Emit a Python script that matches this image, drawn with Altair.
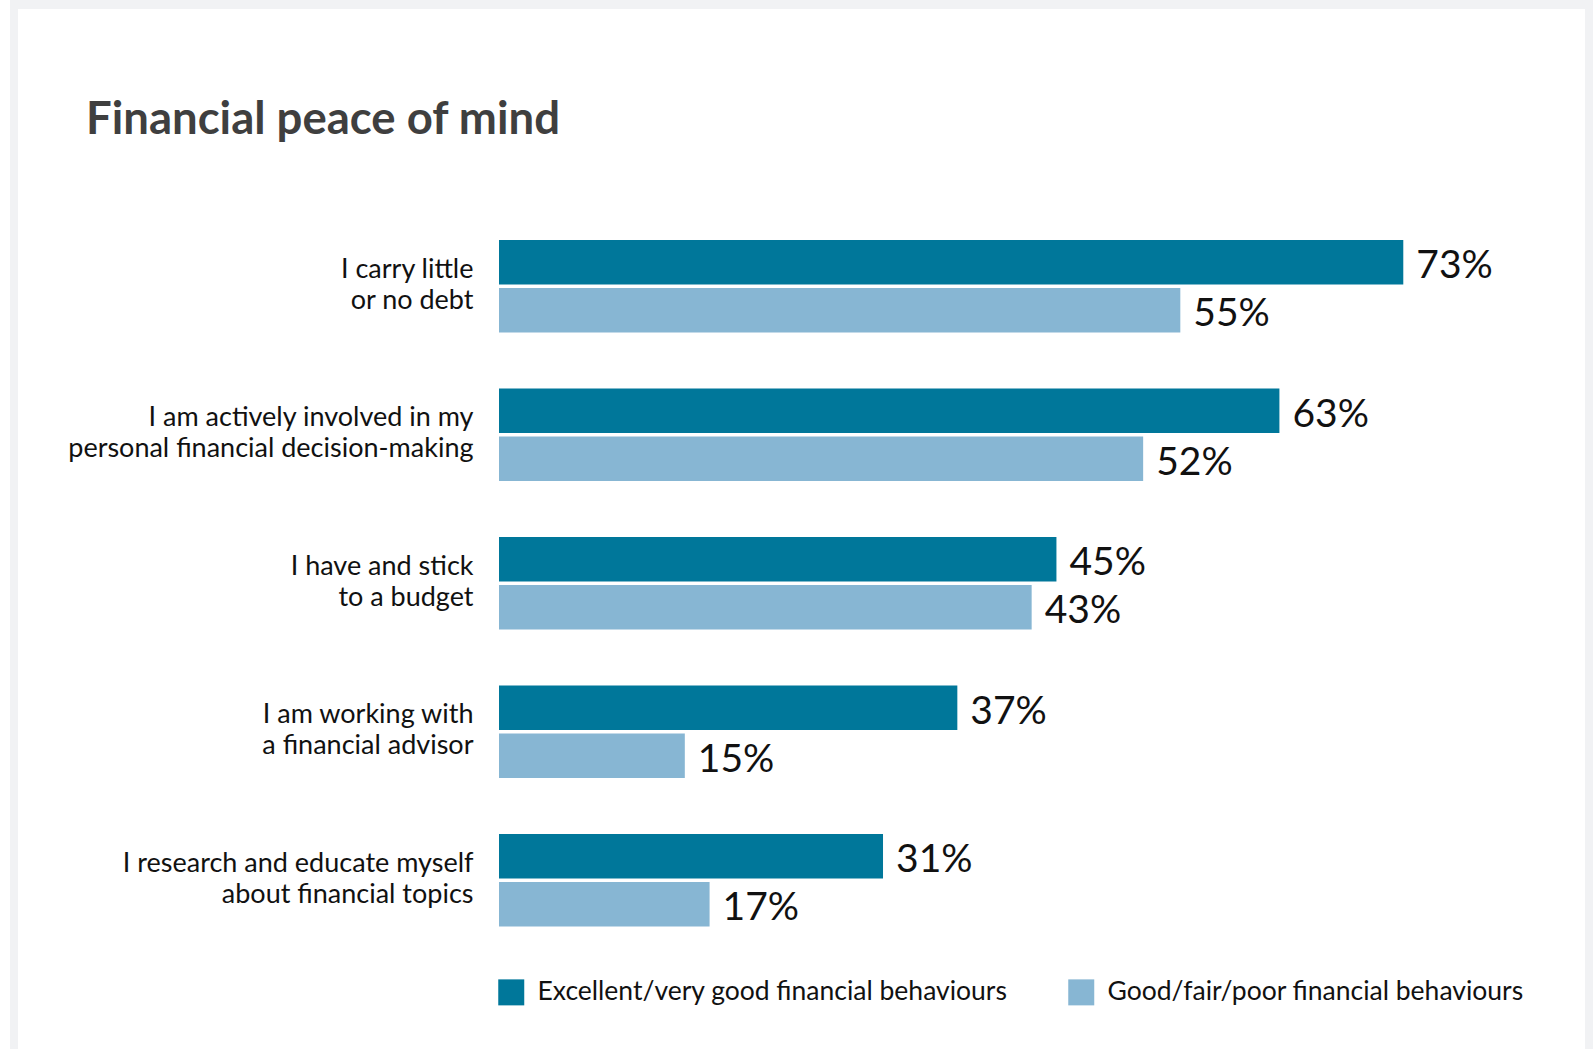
import altair as alt
import pandas as pd

# ---- data ----
categories = [
    "I carry little\nor no debt",
    "I am actively involved in my\npersonal financial decision-making",
    "I have and stick\nto a budget",
    "I am working with\na financial advisor",
    "I research and educate myself\nabout financial topics",
]
series = ["Excellent/very good financial behaviours", "Good/fair/poor financial behaviours"]
excellent = [73, 63, 45, 37, 31]
good_fair_poor = [55, 52, 43, 15, 17]
colors = ["#00779a", "#87b6d3"]

rows = []
for c, e, g in zip(categories, excellent, good_fair_poor):
    rows.append({"category": c, "series": series[0], "value": e, "label": f"{e}%"})
    rows.append({"category": c, "series": series[1], "value": g, "label": f"{g}%"})
df = pd.DataFrame(rows)

# ---- layout ----
PLOT_LEFT = 499
PLOT_TOP = 212
W = 991
H = 742.5
TOTAL_W = 1595
TOTAL_H = 1049

y_enc = alt.Y(
    "category:N",
    sort=categories,
    scale=alt.Scale(paddingInner=0.3758, paddingOuter=0.1879),
    axis=alt.Axis(
        title=None,
        ticks=False,
        domain=False,
        labelExpr="split(datum.label, '\\n')",
        labelFont="Lato",
        labelFontSize=27,
        labelColor="#111111",
        labelLineHeight=31,
        labelPadding=26,
        labelLimit=1000,
        labelBaseline="middle",
        labelOffset=-16.5,
        zindex=2,
    ),
)
yoff = alt.YOffset("series:N", sort=series, scale=alt.Scale(paddingInner=0.0768, paddingOuter=0))
x_enc = alt.X("value:Q", scale=alt.Scale(domain=[0, 80], nice=False, zero=True), axis=None)

frame_data = alt.Data(values=[{"k": 1}])
outer = alt.Chart(frame_data).mark_rect(color="#f1f2f4").encode(
    x=alt.value(10 - PLOT_LEFT), x2=alt.value(1593 - PLOT_LEFT),
    y=alt.value(0 - PLOT_TOP), y2=alt.value(TOTAL_H - PLOT_TOP),
)
inner = alt.Chart(frame_data).mark_rect(color="#ffffff").encode(
    x=alt.value(18 - PLOT_LEFT), x2=alt.value(1585 - PLOT_LEFT),
    y=alt.value(9 - PLOT_TOP), y2=alt.value(TOTAL_H - PLOT_TOP),
)

base = alt.Chart(df)
bars = base.mark_bar().encode(
    x=x_enc,
    y=y_enc,
    yOffset=yoff,
    color=alt.Color(
        "series:N",
        sort=series,
        scale=alt.Scale(domain=series, range=colors),
        legend=alt.Legend(
            title=None,
            orient="none",
            legendX=-1,
            legendY=767,
            direction="horizontal",
            symbolType="square",
            symbolSize=676,
            symbolStrokeWidth=0,
            symbolOpacity=1,
            labelOffset=13,
            columnPadding=60,
            labelFont="Lato",
            labelFontSize=26.5,
            labelColor="#111111",
            labelLimit=1000,
            zindex=2,
        ),
    ),
)
texts = base.mark_text(align="left", baseline="middle", dx=13, dy=4, font="Lato", fontSize=39, color="#111111").encode(
    x=x_enc,
    y=y_enc,
    yOffset=yoff,
    text="label:N",
)

chart = alt.layer(outer, inner, bars, texts).properties(
    width=W,
    height=H,
    autosize=alt.AutoSizeParams(type="none"),
    padding={"left": PLOT_LEFT, "top": PLOT_TOP, "right": TOTAL_W - PLOT_LEFT - W, "bottom": TOTAL_H - PLOT_TOP - H},
    background="#ffffff",
    title=alt.TitleParams(
        "Financial peace of mind",
        anchor="start",
        frame="group",
        dx=86 - PLOT_LEFT,
        offset=-179.6,
        baseline="alphabetic",
        font="Lato",
        fontSize=45.5,
        fontWeight="bold",
        color="#3f3f3f",
        zindex=2,
    ),
).configure_view(strokeWidth=0)

chart.save("out.html", embed_options={"renderer": "svg", "actions": False})
